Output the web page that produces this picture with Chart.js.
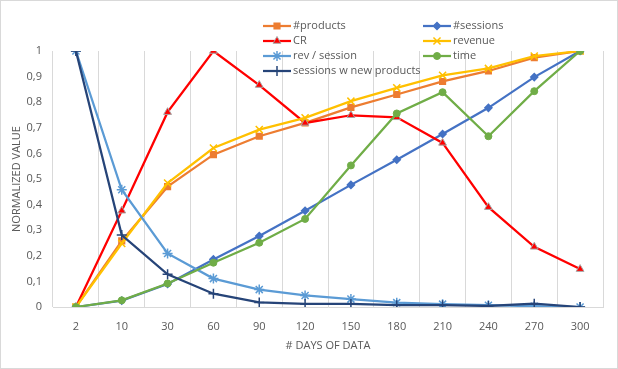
<!DOCTYPE html>
<html>
<head>
<meta charset="utf-8">
<script src="https://cdn.jsdelivr.net/npm/chart.js@4/dist/chart.umd.min.js"></script>
<style>
  html, body { margin: 0; padding: 0; background: #fff; }
  #wrap { width: 618px; height: 369px; }
</style>
</head>
<body>
<div id="wrap"><canvas id="grafico" width="618" height="369"></canvas></div>
<script>
// dados
var dias = ['2', '10', '30', '60', '90', '120', '150', '180', '210', '240', '270', '300'];
var yTicks = ['0', '0,1', '0,2', '0,3', '0,4', '0,5', '0,6', '0,7', '0,8', '0,9', '1'];

var produtos = [0, 0.258, 0.47, 0.595, 0.667, 0.719, 0.78, 0.83, 0.881, 0.922, 0.974, 1];
var sessoes = [0, 0.025, 0.09, 0.186, 0.277, 0.376, 0.477, 0.575, 0.676, 0.778, 0.898, 1];
var cr = [0, 0.376, 0.761, 1, 0.867, 0.719, 0.749, 0.741, 0.641, 0.39, 0.235, 0.148];
var receita = [0, 0.248, 0.484, 0.621, 0.693, 0.739, 0.804, 0.856, 0.905, 0.932, 0.98, 1];
var revSessao = [1, 0.458, 0.209, 0.111, 0.068, 0.045, 0.031, 0.017, 0.011, 0.007, 0.003, 0];
var tempo = [0, 0.026, 0.092, 0.173, 0.251, 0.344, 0.553, 0.756, 0.839, 0.667, 0.843, 1];
var sessoesNovos = [1, 0.281, 0.128, 0.052, 0.018, 0.012, 0.012, 0.007, 0.007, 0.004, 0.013, 0];

var fonte = '"Open Sans", sans-serif';
var cinzaTexto = '#595959';

function serie(label, dados, cor, estilo, raio, corBorda, ordem) {
    return {
        label: label,
        data: dados,
        borderColor: cor,
        backgroundColor: cor,
        borderWidth: 2.25,
        pointStyle: estilo,
        pointRadius: raio,
        pointHoverRadius: raio,
        pointBackgroundColor: cor,
        pointBorderColor: corBorda || cor,
        pointBorderWidth: 1.5,
        tension: 0,
        order: ordem
    };
}

var series = [
    serie('#products', produtos, '#ED7D31', 'rect', 4, null, 6),
    serie('#sessions', sessoes, '#4472C4', 'rectRot', 3.5, null, 5),
    serie('CR', cr, '#FF0000', 'triangle', 4.5, '#a6a6a6', 4),
    serie('revenue', receita, '#FFC000', 'crossRot', 5, null, 3),
    serie('rev / session', revSessao, '#5B9BD5', 'star', 5, null, 2),
    serie('time', tempo, '#70AD47', 'circle', 3.5, null, 1),
    serie('sessions w new products', sessoesNovos, '#264478', 'cross', 5, null, 0)
];
series[2].pointBorderWidth = 1;
series[5].pointBorderWidth = 1;

// posicao da legenda (2 colunas, 4 linhas)
var legendaPos = [[277, 26], [437, 26], [277, 41], [437, 41], [277, 56], [437, 56], [277, 71]];

var legendaPlugin = {
    id: 'legendaManual',
    afterDraw: function(chart) {
        var ctx = chart.ctx;
        ctx.save();
        ctx.strokeStyle = '#d9d9d9';
        ctx.lineWidth = 1;
        ctx.strokeRect(0.5, 0.5, chart.width - 1, chart.height - 1);

        chart.data.datasets.forEach(function(ds, i) {
            var p = legendaPos[i];
            ctx.strokeStyle = ds.borderColor;
            ctx.lineWidth = ds.borderWidth;
            ctx.beginPath();
            ctx.moveTo(p[0] - 14, p[1]);
            ctx.lineTo(p[0] + 14, p[1]);
            ctx.stroke();
            ctx.fillStyle = ds.pointBackgroundColor;
            ctx.strokeStyle = ds.pointBorderColor;
            ctx.lineWidth = ds.pointBorderWidth;
            Chart.helpers.drawPoint(ctx, {pointStyle: ds.pointStyle, radius: ds.pointRadius, borderWidth: ds.pointBorderWidth, rotation: 0}, p[0], p[1]);
            ctx.fillStyle = cinzaTexto;
            ctx.font = '11px ' + fonte;
            ctx.textBaseline = 'middle';
            ctx.textAlign = 'left';
            ctx.fillText(ds.label, p[0] + 16, p[1]);
        });
        ctx.restore();
    }
};

var ctx = document.getElementById('grafico').getContext('2d');
var grafico = new Chart(ctx, {
    type: 'line',
    data: { labels: dias, datasets: series },
    options: {
        responsive: false,
        animation: false,
        devicePixelRatio: 1,
        layout: { padding: { top: 51, right: 15, left: 0, bottom: 0 } },
        plugins: { legend: { display: false }, tooltip: { enabled: false } },
        scales: {
            x: {
                offset: true,
                grid: { offset: true, color: '#d9d9d9', drawTicks: false },
                border: { color: '#d9d9d9' },
                ticks: { color: cinzaTexto, font: { family: fonte, size: 11 }, padding: 13, maxRotation: 0 },
                title: { display: true, text: '# DAYS OF DATA', color: cinzaTexto, font: { family: fonte, size: 11 }, padding: { top: 0, bottom: 17 } },
                afterFit: function(s) { s.height = 62; }
            },
            y: {
                min: 0, max: 1,
                grid: { display: false, drawTicks: false },
                border: { display: false },
                ticks: {
                    stepSize: 0.1,
                    color: cinzaTexto,
                    font: { family: fonte, size: 11 },
                    padding: 11,
                    callback: function(v, i) { return yTicks[i]; }
                },
                title: { display: true, text: 'NORMALIZED VALUE', color: cinzaTexto, font: { family: fonte, size: 11 }, padding: { top: 10, bottom: 0 } },
                afterFit: function(s) { s.width = 53; }
            }
        }
    },
    plugins: [legendaPlugin]
});
</script>
</body>
</html>
